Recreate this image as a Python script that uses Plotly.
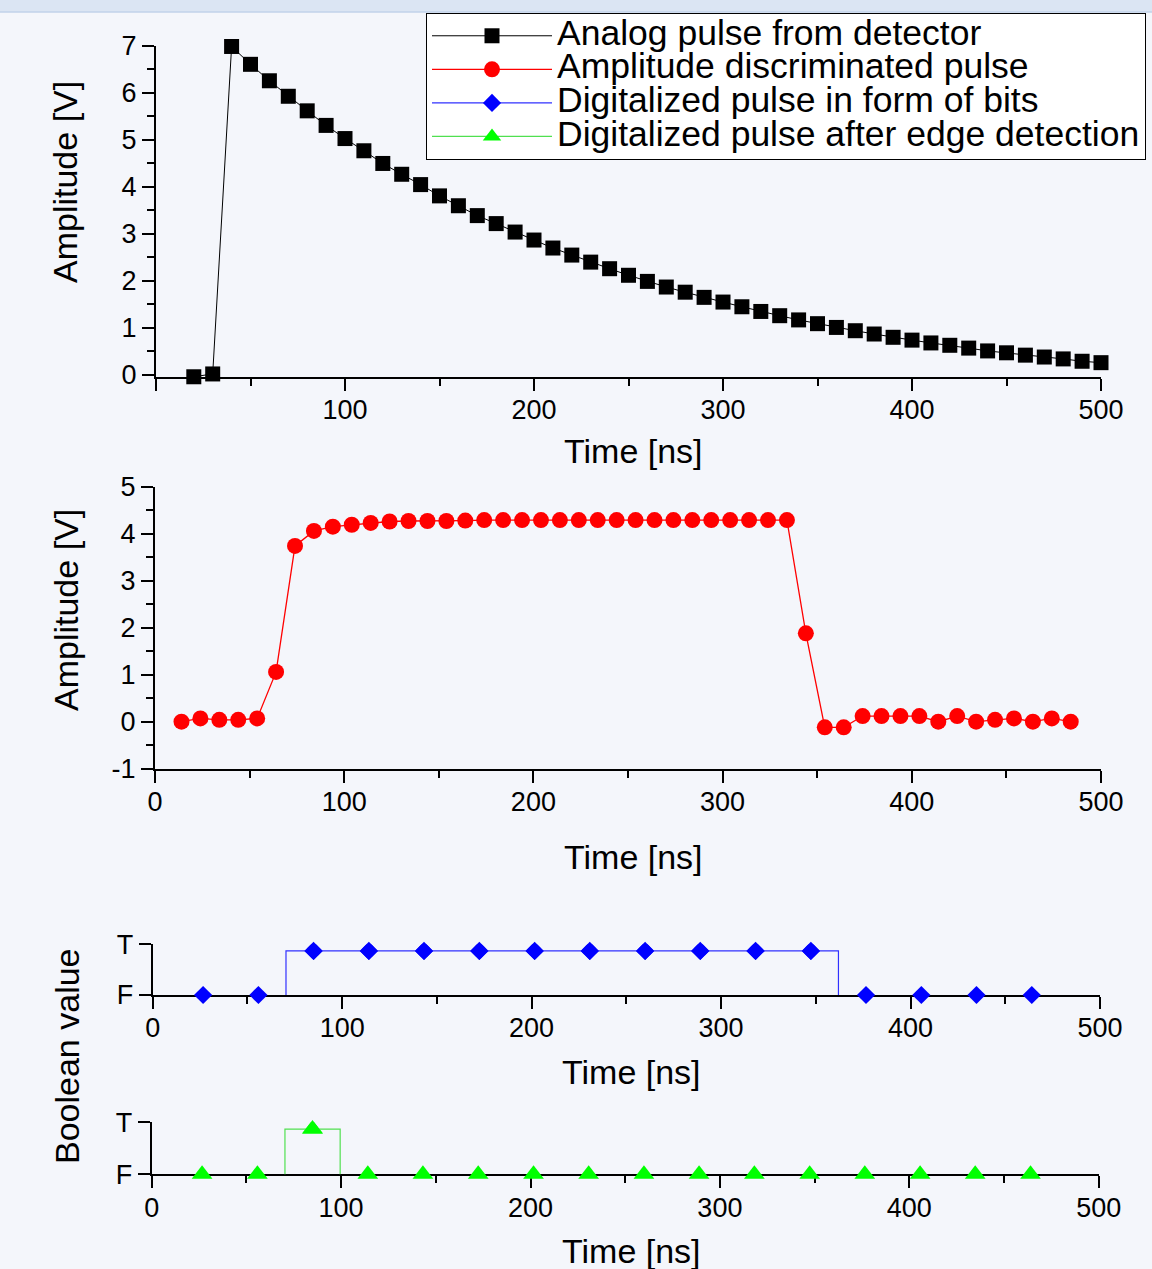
import plotly.graph_objects as go

# ---------------- data ----------------
analog_t = [20, 30, 40, 50, 60, 70, 80, 90, 100, 110, 120, 130, 140, 150, 160, 170, 180,
            190, 200, 210, 220, 230, 240, 250, 260, 270, 280, 290, 300, 310, 320, 330, 340,
            350, 360, 370, 380, 390, 400, 410, 420, 430, 440, 450, 460, 470, 480, 490, 500]
analog_v = [-0.04, 0.02, 6.99, 6.61, 6.26, 5.93, 5.62, 5.31, 5.03, 4.77, 4.50, 4.27, 4.05,
            3.81, 3.60, 3.39, 3.22, 3.04, 2.87, 2.70, 2.55, 2.40, 2.26, 2.12, 1.99, 1.87,
            1.76, 1.65, 1.55, 1.45, 1.35, 1.26, 1.17, 1.09, 1.01, 0.94, 0.87, 0.80, 0.74,
            0.68, 0.63, 0.57, 0.51, 0.47, 0.42, 0.38, 0.34, 0.29, 0.26]

disc_t = [14, 24, 34, 44, 54, 64, 74, 84, 94, 104, 114, 124, 134, 144, 154, 164, 174, 184,
          194, 204, 214, 224, 234, 244, 254, 264, 274, 284, 294, 304, 314, 324, 334, 344,
          354, 364, 374, 384, 394, 404, 414, 424, 434, 444, 454, 464, 474, 484]
disc_v = [0.00, 0.07, 0.04, 0.04, 0.07, 1.06, 3.74, 4.06, 4.15, 4.19, 4.23, 4.26, 4.27,
          4.27, 4.27, 4.28, 4.29, 4.29, 4.29, 4.29, 4.29, 4.29, 4.29, 4.29, 4.29, 4.29,
          4.29, 4.29, 4.29, 4.29, 4.29, 4.29, 4.29, 1.88, -0.12, -0.12, 0.12, 0.12, 0.12,
          0.12, 0.00, 0.12, 0.00, 0.04, 0.07, 0.00, 0.07, 0.00]

bit_t = [26.6, 55.8, 84.9, 114.1, 143.2, 172.4, 201.6, 230.7, 259.9, 289.0, 318.2, 347.4,
         376.5, 405.7, 434.8, 464.0]
bits = [0, 0, 1, 1, 1, 1, 1, 1, 1, 1, 1, 1, 0, 0, 0, 0]
edge_bits = [0, 0, 1, 0, 0, 0, 0, 0, 0, 0, 0, 0, 0, 0, 0, 0]

series_names = ["Analog pulse from detector", "Amplitude discriminated pulse",
                "Digitalized pulse in form of bits", "Digitalized pulse after edge detection"]

x_ticks = [0, 100, 200, 300, 400, 500]
x_minor = [50, 150, 250, 350, 450]
y1_ticks = [0, 1, 2, 3, 4, 5, 6, 7]
y1_minor = [0.5, 1.5, 2.5, 3.5, 4.5, 5.5, 6.5]
y2_ticks = [-1, 0, 1, 2, 3, 4, 5]
y2_labels = ["-1", "0", "1", "2", "3", "4", "5"]
y2_minor = [-0.5, 0.5, 1.5, 2.5, 3.5, 4.5]
bool_ticks = [0, 1.15]
bool_text = ["F", "T"]

# ---------------- figure ----------------
W, H = 1152, 1269
FONT = "Liberation Sans, Arial, sans-serif"
BG = "#f4f6fb"


def leg(name):
    return "<span style='font-size:35.5px'>" + name + "</span>"


def px_x(p):
    return p / W


def px_y(p):
    return 1 - p / H


fig = go.Figure()
fig.add_trace(go.Scatter(x=analog_t, y=analog_v, mode="lines+markers", name=leg(series_names[0]),
                         line=dict(color="black", width=1),
                         marker=dict(symbol="square", size=15, color="black"),
                         cliponaxis=False, xaxis="x", yaxis="y"))
fig.add_trace(go.Scatter(x=disc_t, y=disc_v, mode="lines+markers", name=leg(series_names[1]),
                         line=dict(color="#ff0000", width=1.3),
                         marker=dict(symbol="circle", size=16, color="#ff0000"),
                         cliponaxis=False, xaxis="x2", yaxis="y2"))
# bit pulse: the step line lives on an overlay axis whose "F" level sits under the x axis line
fig.add_trace(go.Scatter(x=bit_t, y=bits, mode="lines+markers", name=leg(series_names[2]),
                         line=dict(color="#3030ff", width=1.2, shape="hvh"),
                         marker=dict(symbol="diamond", size=14, color="#0000ff"),
                         cliponaxis=True, xaxis="x3", yaxis="y5"))
fig.add_trace(go.Scatter(x=bit_t, y=bits, mode="markers", showlegend=False,
                         marker=dict(symbol="diamond", size=14, color="#0000ff"),
                         cliponaxis=False, xaxis="x3", yaxis="y3", hoverinfo="skip"))
fig.add_trace(go.Scatter(x=bit_t, y=edge_bits, mode="lines+markers", name=leg(series_names[3]),
                         line=dict(color="#50e050", width=1.2, shape="hvh"),
                         marker=dict(symbol="triangle-up", size=18, color="#00ff00"),
                         cliponaxis=True, xaxis="x4", yaxis="y6"))
fig.add_trace(go.Scatter(x=bit_t, y=edge_bits, mode="markers", showlegend=False,
                         marker=dict(symbol="triangle-up", size=18, color="#00ff00"),
                         cliponaxis=False, xaxis="x4", yaxis="y4", hoverinfo="skip"))

tickfont = dict(family=FONT, size=27, color="black")
common = dict(showline=True, linecolor="black", linewidth=2, ticks="outside", ticklen=12,
              tickwidth=2, tickcolor="black", showgrid=False, zeroline=False,
              tickfont=tickfont, fixedrange=True, automargin=False)
minor_x = dict(tickvals=x_minor, ticklen=7, tickwidth=2, tickcolor="black", ticks="outside",
               showgrid=False)
xstand = dict(ticklabelstandoff=-4)

# pixel geometry of the boolean panels
b3_bot, b3_top = 995.0, 944.3
b4_bot, b4_top = 1174.3, 1122.3
b3_ppu = (b3_bot - b3_top) / 1.15
b4_ppu = (b4_bot - b4_top) / 1.15
# overlay ranges: value 1 at the same pixel, value 0 two pixels below the panel edge
o3_ppu = (b3_bot + 2 - (b3_bot - b3_ppu)) / 1.0
o4_ppu = (b4_bot + 2 - (b4_bot - b4_ppu)) / 1.0
o3_range = [2 / o3_ppu, 1 + (b3_bot - b3_ppu - b3_top) / o3_ppu]
o4_range = [2 / o4_ppu, 1 + (b4_bot - b4_ppu - b4_top) / o4_ppu]

layout = dict(
    template="none",
    width=W, height=H, autosize=False, margin=dict(l=0, r=0, t=0, b=0, pad=0),
    paper_bgcolor=BG, plot_bgcolor="rgba(0,0,0,0)",
    font=dict(family=FONT, color="black"),
    showlegend=True,
    legend=dict(x=px_x(426), y=px_y(13), xanchor="left", yanchor="top",
                bgcolor="white", bordercolor="black", borderwidth=1,
                font=dict(family=FONT, size=23.5, color="black"), itemwidth=120,
                traceorder="normal"),
    xaxis=dict(domain=[px_x(156), px_x(1101)], range=[0, 500], anchor="y",
               tickmode="array", tickvals=x_ticks, ticktext=[""] + [str(v) for v in x_ticks[1:]],
               minor=minor_x, **common, **xstand),
    yaxis=dict(domain=[px_y(377), px_y(46)], range=[-0.045, 7], anchor="x",
               tickmode="array", tickvals=y1_ticks,
               minor=dict(tickvals=y1_minor, ticklen=7, tickwidth=2, tickcolor="black",
                          ticks="outside", showgrid=False), **common),
    xaxis2=dict(domain=[px_x(155), px_x(1101)], range=[0, 500], anchor="y2",
                tickmode="array", tickvals=x_ticks, minor=minor_x, **common, **xstand),
    yaxis2=dict(domain=[px_y(768.7), px_y(486.7)], range=[-1, 5], anchor="x2",
                tickmode="array", tickvals=y2_ticks, ticktext=y2_labels,
                minor=dict(tickvals=y2_minor, ticklen=7, tickwidth=2, tickcolor="black",
                           ticks="outside", showgrid=False), **common),
    xaxis3=dict(domain=[px_x(152.7), px_x(1100)], range=[0, 500], anchor="y3",
                tickmode="array", tickvals=x_ticks, minor=minor_x, layer="below traces",
                **common, **xstand),
    yaxis3=dict(domain=[px_y(b3_bot), px_y(b3_top)], range=[0, 1.15], anchor="x3",
                tickmode="array", tickvals=bool_ticks, ticktext=bool_text, **common),
    yaxis5=dict(overlaying="y3", anchor="x3", range=o3_range, visible=False,
                fixedrange=True, showgrid=False, zeroline=False),
    xaxis4=dict(domain=[px_x(151.7), px_x(1098.7)], range=[0, 500], anchor="y4",
                tickmode="array", tickvals=x_ticks, minor=minor_x, layer="below traces",
                **common, **xstand),
    yaxis4=dict(domain=[px_y(b4_bot), px_y(b4_top)], range=[0, 1.15], anchor="x4",
                tickmode="array", tickvals=bool_ticks, ticktext=bool_text, **common),
    yaxis6=dict(overlaying="y4", anchor="x4", range=o4_range, visible=False,
                fixedrange=True, showgrid=False, zeroline=False),
)
fig.update_layout(**layout)

title_font = dict(family=FONT, size=34, color="black")
annots = [
    ("Time [ns]", 633, 451, 0),
    ("Time [ns]", 633, 857, 0),
    ("Time [ns]", 631, 1072, 0),
    ("Time [ns]", 631, 1251, 0),
    ("Amplitude [V]", 65, 182, -90),
    ("Amplitude [V]", 66, 610, -90),
    ("Boolean value", 67, 1056, -90),
]
for text, ax_, ay_, ang in annots:
    fig.add_annotation(text=text, x=px_x(ax_), y=px_y(ay_), xref="paper", yref="paper",
                       xanchor="center", yanchor="middle", showarrow=False,
                       textangle=ang, font=title_font)

# window chrome band at the top
fig.add_shape(type="rect", xref="paper", yref="paper", x0=0, x1=1, y0=px_y(12), y1=1,
              fillcolor="#dbe5f3", line=dict(width=0), layer="below")
fig.add_shape(type="line", xref="paper", yref="paper", x0=0, x1=1, y0=px_y(12), y1=px_y(12),
              line=dict(color="#c2d2ea", width=1.5), layer="below")

fig.write_html(
    "out.html",
    config={"responsive": False, "displayModeBar": False},
    default_width="1152px", default_height="1269px",
    post_script="document.body.style.margin='0';document.body.style.overflow='hidden';",
)
